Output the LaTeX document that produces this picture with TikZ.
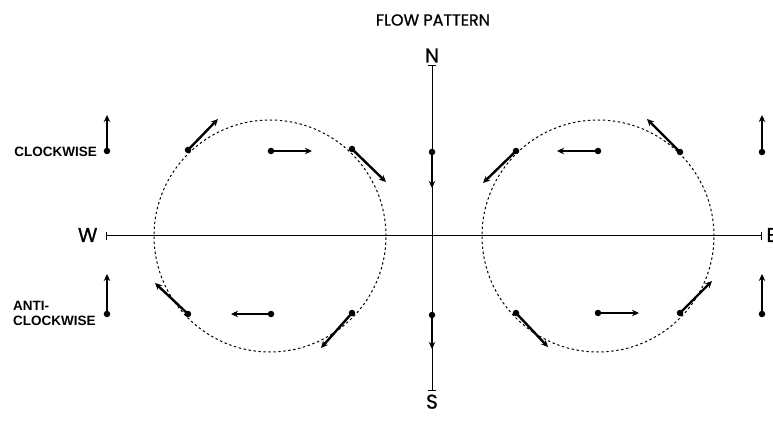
\documentclass[tikz,border=0pt]{standalone}
\usepackage{fontspec}
\setmainfont{Poppins}
\newfontfamily\headfont{Poppins}[FakeBold=0.9]
\newfontfamily\labelfont{Liberation Sans}
\usetikzlibrary{calc, arrows.meta}

\begin{document}
\begin{tikzpicture}[x=1pt,y=1pt,
    flowdot/.style={circle, fill=black, inner sep=0pt, minimum size=6.5pt},
    flowarrow/.style={line width=2.4pt, -{Stealth[length=7pt,width=6.5pt]}},
    axisline/.style={line width=1pt},
    pathcircle/.style={dash pattern=on 2.4pt off 2.6pt, line width=1pt},
    compass/.style={font=\headfont\fontsize{20}{20}\selectfont},
    sidelabel/.style={font=\labelfont\bfseries\fontsize{13.5}{15}\selectfont, inner sep=0pt}]
  % Fix the page to the size of the drawing
  \useasboundingbox (-432,-184) rectangle (341,236);

  % Macros for the two circles
  \def\circleR{116} % Radius of both circles
  \def\leftCx{-162} % X part of the left centre
  \def\rightCx{166} % X part of the right centre

  % Macros for the axis ends
  \def\westEnd{-325}
  \def\eastEnd{329}
  \def\northEnd{170}
  \def\southEnd{-154}

  % Title
  \node (title) at (1,216) {\headfont\fontsize{16}{16}\selectfont FLOW PATTERN};

  % Draw the axes with the end bars
  \draw[axisline] (\westEnd,0) -- (\eastEnd,0);
  \draw[axisline] (0,\northEnd) -- (0,\southEnd);
  \draw[axisline] (\westEnd,-4) -- (\westEnd,4);
  \draw[axisline] (\eastEnd,-4) -- (\eastEnd,4);
  \draw[axisline] (-4,\northEnd) -- (4,\northEnd);
  \draw[axisline] (-4,\southEnd) -- (4,\southEnd);

  % Compass letters
  \node[compass, anchor=east] (W) at (\westEnd-6,1) {W};
  \node[compass, anchor=west] (E) at (\eastEnd+2,1) {E};
  \node[compass, anchor=south] (N) at (0,\northEnd) {N};
  \node[compass, anchor=north] (S) at (0,\southEnd-1) {S};

  % Draw the two dotted circles
  \draw[pathcircle] (\leftCx,0) circle (\circleR);
  \draw[pathcircle] (\rightCx,0) circle (\circleR);

  % Dots of the left circle
  \node[flowdot] (lTL) at (-244,86) {};
  \node[flowdot] (lTM) at (-161,85) {};
  \node[flowdot] (lTR) at (-80,87) {};
  \node[flowdot] (lBL) at (-244,-78) {};
  \node[flowdot] (lBM) at (-161,-78) {};
  \node[flowdot] (lBR) at (-80,-77) {};

  % Dots of the right circle
  \node[flowdot] (rTL) at (84,85) {};
  \node[flowdot] (rTM) at (166,85) {};
  \node[flowdot] (rTR) at (248,84) {};
  \node[flowdot] (rBL) at (84,-77) {};
  \node[flowdot] (rBM) at (166,-77) {};
  \node[flowdot] (rBR) at (248,-77) {};

  % Dots on the N-S axis and at the sides
  \node[flowdot] (nDot) at (0,84) {};
  \node[flowdot] (sDot) at (0,-79) {};
  \node[flowdot] (cwW) at (\westEnd,85) {};
  \node[flowdot] (acwW) at (\westEnd,-78) {};
  \node[flowdot] (cwE) at (\eastEnd+1,84) {};
  \node[flowdot] (acwE) at (\eastEnd+1,-78) {};

  % Arrow tips
  \coordinate (lTLtip) at (-214,117);
  \coordinate (lTMtip) at (-120,85);
  \coordinate (lTRtip) at (-46,54);
  \coordinate (lBLtip) at (-277,-47);
  \coordinate (lBMtip) at (-201,-78);
  \coordinate (lBRtip) at (-111,-112);
  \coordinate (rTLtip) at (51,53);
  \coordinate (rTMtip) at (125,85);
  \coordinate (rTRtip) at (215,117);
  \coordinate (rBLtip) at (116,-111);
  \coordinate (rBMtip) at (207,-77);
  \coordinate (rBRtip) at (280,-45);
  \coordinate (nDottip) at (0,48);
  \coordinate (sDottip) at (0,-113);
  \coordinate (cwWtip) at (\westEnd,121);
  \coordinate (acwWtip) at (\westEnd,-38);
  \coordinate (cwEtip) at (\eastEnd+1,121);
  \coordinate (acwEtip) at (\eastEnd+1,-38);

  % Draw the flow arrows
  \foreach \d in {lTL,lTM,lTR,lBL,lBM,lBR,rTL,rTM,rTR,rBL,rBM,rBR,nDot,sDot,cwW,acwW,cwE,acwE}
    \draw[flowarrow] (\d.center) -- (\d tip);

  % Side labels
  \node[sidelabel, anchor=east] (cwLabel) at (-335,84) {CLOCKWISE};
  \node[sidelabel, anchor=west, align=left] (acwLabel) at (-419,-77) {ANTI-\\CLOCKWISE};

\end{tikzpicture}
\end{document}
